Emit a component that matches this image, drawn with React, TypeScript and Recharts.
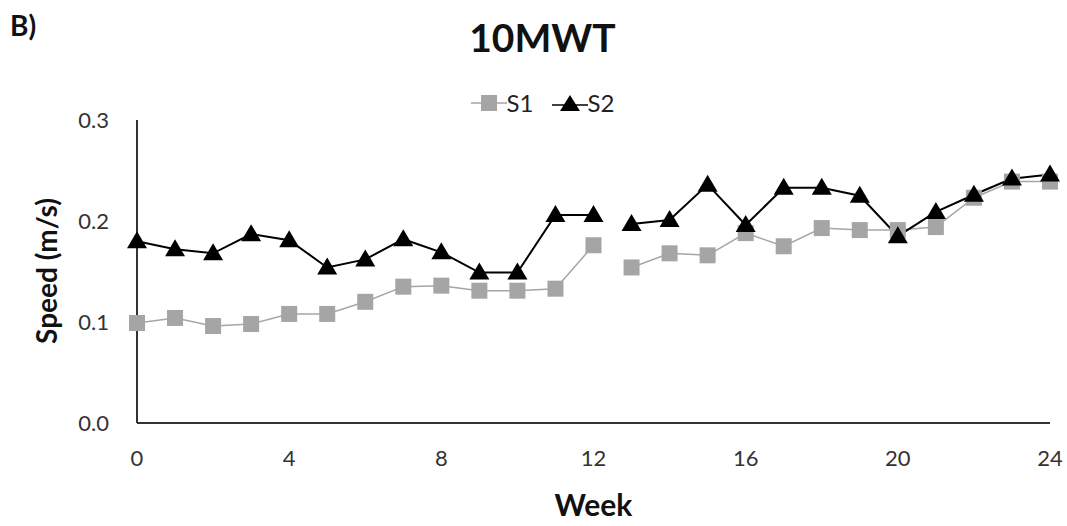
import { Label, Line, LineChart, XAxis, YAxis } from "recharts";

// weeks 0..24, missing link between week 12 and 13
const weeks = [0, 1, 2, 3, 4, 5, 6, 7, 8, 9, 10, 11, 12, 13, 14, 15, 16, 17, 18, 19, 20, 21, 22, 23, 24];
const s1 = [0.099, 0.104, 0.096, 0.098, 0.108, 0.108, 0.12, 0.135, 0.136, 0.131, 0.131, 0.133, 0.176,
    0.154, 0.168, 0.166, 0.188, 0.175, 0.193, 0.191, 0.191, 0.194, 0.223, 0.239, 0.239];
const s2 = [0.18, 0.172, 0.168, 0.187, 0.181, 0.154, 0.162, 0.182, 0.169, 0.149, 0.149, 0.206, 0.206,
    0.197, 0.201, 0.236, 0.196, 0.233, 0.233, 0.225, 0.185, 0.209, 0.226, 0.242, 0.246];
const xTicks = [0, 4, 8, 12, 16, 20, 24];
const yTicks = [0, 0.1, 0.2, 0.3];
const gapAfterWeek = 12;

const rows: any[] = [];
weeks.forEach((w, i) => {
    rows.push({ week: w, s1: s1[i], s2: s2[i] });
    if (w === gapAfterWeek) rows.push({ week: w + 0.5, s1: null, s2: null });
});

const FONT = "Lato, 'Liberation Sans', sans-serif";
const GREY = "#a5a5a5";

const SquareDot = (props: any) => {
    const { cx, cy, key } = props;
    if (cy == null || cx == null) return <g key={key} />;
    return <rect key={key} x={cx - 8} y={cy - 8} width={16} height={16} fill={GREY} />;
};

const TriangleDot = (props: any) => {
    const { cx, cy, key } = props;
    if (cy == null || cx == null) return <g key={key} />;
    return <polygon key={key} points={`${cx},${cy - 10} ${cx + 10},${cy + 7} ${cx - 10},${cy + 7}`} fill="#000" />;
};

const LegendBox = () => (
    <div style={{ display: "flex", justifyContent: "center", alignItems: "center", gap: 18, fontFamily: FONT, fontSize: 24, color: "#222" }}>
        <div style={{ display: "flex", alignItems: "center" }}>
            <svg width={36} height={22}>
                <line x1={0} y1={11} x2={36} y2={11} stroke={GREY} strokeWidth={1.5} />
                <rect x={10} y={3} width={16} height={16} fill={GREY} />
            </svg>
            <span>S1</span>
        </div>
        <div style={{ display: "flex", alignItems: "center" }}>
            <svg width={36} height={22}>
                <line x1={0} y1={13} x2={36} y2={13} stroke="#000" strokeWidth={1.5} />
                <polygon points="18,3 28,19 8,19" fill="#000" />
            </svg>
            <span>S2</span>
        </div>
    </div>
);

export default function App() {
    return (
        <div style={{ position: "absolute", left: 0, top: 0, width: 1067, height: 526, background: "#fff", fontFamily: FONT }}>
            <div style={{ position: "absolute", left: 10, top: 8, fontSize: 28, fontWeight: 700, color: "#111" }}>B)</div>
            <div style={{ position: "absolute", left: 0, width: 1085, top: 14, textAlign: "center", fontSize: 39, fontWeight: 700, color: "#111" }}>
                10MWT
            </div>
            <div style={{ position: "absolute", left: 0, width: 1085, top: 88 }}>
                <LegendBox />
            </div>
            <LineChart width={1067} height={526} data={rows} margin={{ top: 120, right: 17, bottom: 0, left: 0 }}>
                <XAxis
                    dataKey="week"
                    type="number"
                    domain={[0, 24]}
                    ticks={xTicks}
                    height={103}
                    tickSize={0}
                    tickMargin={27}
                    tick={{ fontSize: 22, fill: "#333", fontFamily: FONT }}
                    axisLine={{ stroke: "#333", strokeWidth: 2 }}
                    tickLine={false}
                >
                    <Label value="Week" position="insideBottom" offset={10} style={{ fontSize: 30, fontWeight: 700, fill: "#111", fontFamily: FONT }} />
                </XAxis>
                <YAxis
                    type="number"
                    domain={[0, 0.3]}
                    ticks={yTicks}
                    width={137}
                    tickSize={0}
                    tickMargin={28}
                    tickFormatter={(v: number) => v.toFixed(1)}
                    tick={{ fontSize: 22, fill: "#333", fontFamily: FONT }}
                    axisLine={{ stroke: "#333", strokeWidth: 2 }}
                    tickLine={false}
                >
                    <Label
                        content={() => (
                            <text
                                x={46}
                                y={271}
                                transform="rotate(-90 46 271)"
                                textAnchor="middle"
                                dominantBaseline="central"
                                style={{ fontSize: 28, fontWeight: 700, fill: "#111", fontFamily: FONT }}
                            >
                                Speed (m/s)
                            </text>
                        )}
                    />
                </YAxis>
                <Line
                    dataKey="s1"
                    name="S1"
                    stroke={GREY}
                    strokeWidth={1.5}
                    dot={SquareDot}
                    activeDot={false}
                    isAnimationActive={false}
                />
                <Line
                    dataKey="s2"
                    name="S2"
                    stroke="#000"
                    strokeWidth={2}
                    dot={TriangleDot}
                    activeDot={false}
                    isAnimationActive={false}
                />
            </LineChart>
        </div>
    );
}
